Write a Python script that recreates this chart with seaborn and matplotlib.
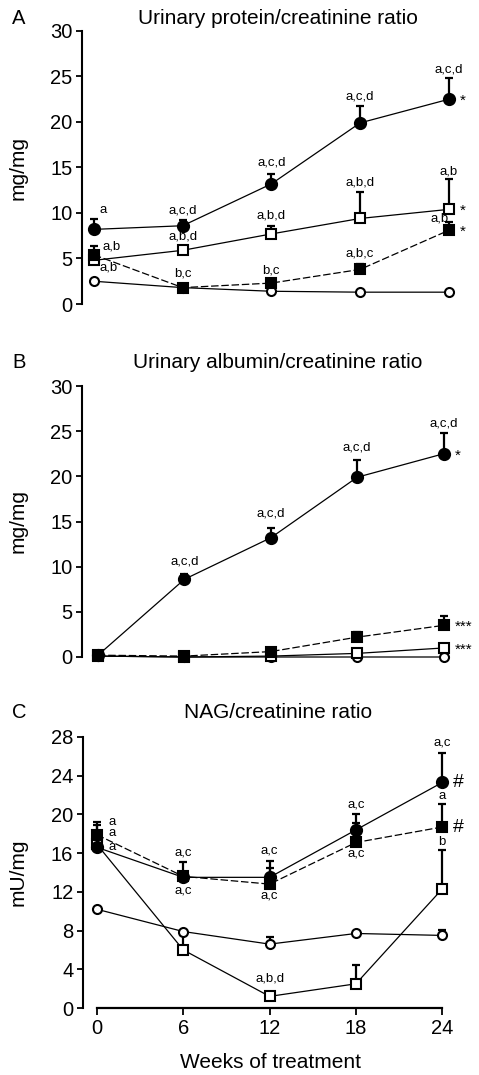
import numpy as np
import matplotlib
matplotlib.use("Agg")
import matplotlib.pyplot as plt
import seaborn as sns

# weeks of treatment
weeks = [0, 6, 12, 18, 24]

# A: urinary protein/creatinine ratio (mg/mg), mean and upper SD
a_closed_circle = [8.2, 8.6, 13.2, 19.9, 22.5]
a_closed_circle_sd = [1.1, 0.6, 1.1, 1.9, 2.3]
a_open_square = [4.8, 5.9, 7.7, 9.4, 10.4]
a_open_square_sd = [0.0, 0.4, 0.9, 2.9, 3.3]
a_closed_square = [5.4, 1.8, 2.3, 3.8, 8.1]
a_closed_square_sd = [1.0, 0.0, 0.2, 0.6, 0.9]
a_open_circle = [2.5, 1.8, 1.4, 1.3, 1.3]
a_open_circle_sd = [0.0, 0.0, 0.0, 0.0, 0.0]

# B: urinary albumin/creatinine ratio (mg/mg)
b_closed_circle = [0.2, 8.6, 13.2, 19.9, 22.5]
b_closed_circle_sd = [0.0, 0.6, 1.1, 1.9, 2.3]
b_open_square = [0.1, 0.0, 0.1, 0.4, 1.0]
b_open_square_sd = [0.0, 0.0, 0.0, 0.0, 0.2]
b_closed_square = [0.2, 0.1, 0.6, 2.2, 3.5]
b_closed_square_sd = [0.0, 0.0, 0.2, 0.6, 1.0]
b_open_circle = [0.1, 0.0, 0.0, 0.0, 0.0]
b_open_circle_sd = [0.0, 0.0, 0.0, 0.0, 0.0]

# C: NAG/creatinine ratio (mU/mg)
c_closed_circle = [16.6, 13.5, 13.5, 18.4, 23.3]
c_closed_circle_sd = [2.3, 0.5, 1.0, 1.6, 3.0]
c_open_square = [16.9, 6.0, 1.2, 2.5, 12.3]
c_open_square_sd = [0.0, 1.5, 0.0, 1.9, 4.0]
c_closed_square = [17.9, 13.6, 12.8, 17.1, 18.7]
c_closed_square_sd = [1.3, 1.5, 2.4, 2.0, 2.4]
c_open_circle = [10.2, 7.9, 6.6, 7.7, 7.5]
c_open_circle_sd = [0.0, 0.0, 0.7, 0.0, 0.6]

# significance labels (x, y, text)
a_labels = [(0.65, 10.3, "a"), (6, 10.3, "a,c,d"), (12, 15.5, "a,c,d"),
            (18, 22.8, "a,c,d"), (24, 25.8, "a,c,d"),
            (1.2, 6.3, "a,b"), (1.0, 4.0, "a,b"), (6, 7.4, "a,b,d"),
            (6, 3.4, "b,c"), (12, 9.7, "a,b,d"), (12, 3.7, "b,c"),
            (18, 13.4, "a,b,d"), (18, 5.5, "a,b,c"), (24, 14.6, "a,b"),
            (23.4, 9.4, "a,b")]
a_marks = [(24, 22.5, "*"), (24, 10.4, "*"), (24, 8.1, "*")]

b_labels = [(6, 10.6, "a,c,d"), (12, 15.9, "a,c,d"), (18, 23.2, "a,c,d"),
            (24, 25.9, "a,c,d")]
b_marks = [(24, 22.5, "*"), (24, 3.5, "***"), (24, 1.0, "***")]

c_labels = [(1.05, 19.2, "a"), (1.05, 18.1, "a"), (1.05, 16.6, "a"),
            (6, 16.1, "a,c"), (6, 12.1, "a,c"), (12, 16.3, "a,c"),
            (12, 11.6, "a,c"), (18, 21.0, "a,c"), (18, 16.0, "a,c"),
            (24, 27.4, "a,c"), (24, 21.9, "a"), (24, 17.2, "b"),
            (12, 3.0, "a,b,d")]
c_marks = [(24, 23.3, "#"), (24, 18.7, "#")]

sns.set_style("ticks")
plt.rcParams['font.family'] = ['Liberation Sans', 'DejaVu Sans']
plt.rcParams.update({'text.color': 'black', 'axes.labelcolor': 'black',
                     'xtick.color': 'black', 'ytick.color': 'black',
                     'axes.edgecolor': 'black'})

W, H = 479, 1075
fig = plt.figure(figsize=(W / 100, H / 100), dpi=100)


def add_panel(left, right, top, bottom, xlim, ylim):
  ax = fig.add_axes([left / W, 1 - bottom / H, (right - left) / W, (bottom - top) / H])
  ax.set_xlim(*xlim)
  ax.set_ylim(*ylim)
  return ax


def draw_series(ax, y, sd, marker, filled, dashed, ms):
  y = np.asarray(y)
  sd = np.asarray(sd)
  x = np.asarray(weeks)
  keep = sd > 0
  if keep.any():
    ax.errorbar(x[keep], y[keep], yerr=[np.zeros(keep.sum()), sd[keep]],
                fmt='none', ecolor='black', elinewidth=1.6, capsize=3.2,
                capthick=1.6, zorder=2, clip_on=False)
  sns.lineplot(x=x, y=y, ax=ax, color='black', linewidth=0.9,
               linestyle=(0, (6, 2.2)) if dashed else '-',
               marker=marker, markersize=ms,
               markerfacecolor='black' if filled else 'white',
               markeredgecolor='black', markeredgewidth=1.5,
               clip_on=False, zorder=3)


def style_axis(ax, yticks, bottom_axis):
  sns.despine(ax=ax, bottom=not bottom_axis)
  ax.spines['left'].set_linewidth(1.5)
  ax.set_yticks(yticks)
  ax.tick_params(axis='y', length=4, width=1.3, labelsize=14.5, pad=3)
  if bottom_axis:
    ax.spines['bottom'].set_linewidth(1.6)
    ax.spines['bottom'].set_bounds(0, 24)
    ax.set_xticks(weeks)
    ax.tick_params(axis='x', length=5, width=1.3, labelsize=14.5, pad=3)
  else:
    ax.set_xticks([])
  ax.set_xlabel('')
  ax.set_ylabel('')


def annotate(ax, labels, marks, mark_size):
  for x, y, t in labels:
    ax.text(x, y, t, ha='center', va='center', fontsize=9.5, zorder=1)
  for x, y, t in marks:
    ax.text(x + 0.75, y - 0.2 * (t != '#'), t, ha='left', va='center',
            fontsize=mark_size, zorder=4)


panels = [
  dict(box=(82, 471, 31, 304), xlim=(-0.81, 25.5), ylim=(0, 30),
       yticks=range(0, 31, 5),
       series=[(a_open_circle, a_open_circle_sd, 'o', False, False, 6.5),
               (a_open_square, a_open_square_sd, 's', False, False, 6.5),
               (a_closed_square, a_closed_square_sd, 's', True, True, 6.5),
               (a_closed_circle, a_closed_circle_sd, 'o', True, False, 8)],
       labels=a_labels, marks=a_marks, msize=11, xaxis=False),
  dict(box=(82, 471, 386, 657), xlim=(-1.11, 25.9), ylim=(0, 30),
       yticks=range(0, 31, 5),
       series=[(b_open_circle, b_open_circle_sd, 'o', False, False, 6.5),
               (b_open_square, b_open_square_sd, 's', False, False, 6.5),
               (b_closed_square, b_closed_square_sd, 's', True, True, 6.5),
               (b_closed_circle, b_closed_circle_sd, 'o', True, False, 8)],
       labels=b_labels, marks=b_marks, msize=11, xaxis=False),
  dict(box=(83, 471, 737, 1008), xlim=(-0.97, 26.0), ylim=(0, 28),
       yticks=range(0, 29, 4),
       series=[(c_open_circle, c_open_circle_sd, 'o', False, False, 6.5),
               (c_open_square, c_open_square_sd, 's', False, False, 6.5),
               (c_closed_square, c_closed_square_sd, 's', True, True, 6.5),
               (c_closed_circle, c_closed_circle_sd, 'o', True, False, 8)],
       labels=c_labels, marks=c_marks, msize=14, xaxis=True),
]

for p in panels:
  l, r, t, b = p['box']
  ax = add_panel(l, r, t, b, p['xlim'], p['ylim'])
  for y, sd, m, filled, dashed, ms in p['series']:
    draw_series(ax, y, sd, m, filled, dashed, ms)
  style_axis(ax, p['yticks'], p['xaxis'])
  annotate(ax, p['labels'], p['marks'], p['msize'])

# panel letters, titles and axis labels
for letter, title, y in [('A', 'Urinary protein/creatinine ratio', 18),
                         ('B', 'Urinary albumin/creatinine ratio', 362),
                         ('C', 'NAG/creatinine ratio', 713)]:
  fig.text(19 / W, 1 - y / H, letter, ha='center', va='center', fontsize=14.5)
  fig.text(278 / W, 1 - y / H, title, ha='center', va='center', fontsize=15)

for text, y in [('mg/mg', 168), ('mg/mg', 521), ('mU/mg', 872)]:
  fig.text(18 / W, 1 - y / H, text, ha='center', va='center', rotation=90, fontsize=15)

fig.text(271 / W, 1 - 1062 / H, 'Weeks of treatment', ha='center', va='center', fontsize=15)

fig.savefig('out.png', dpi=100)
